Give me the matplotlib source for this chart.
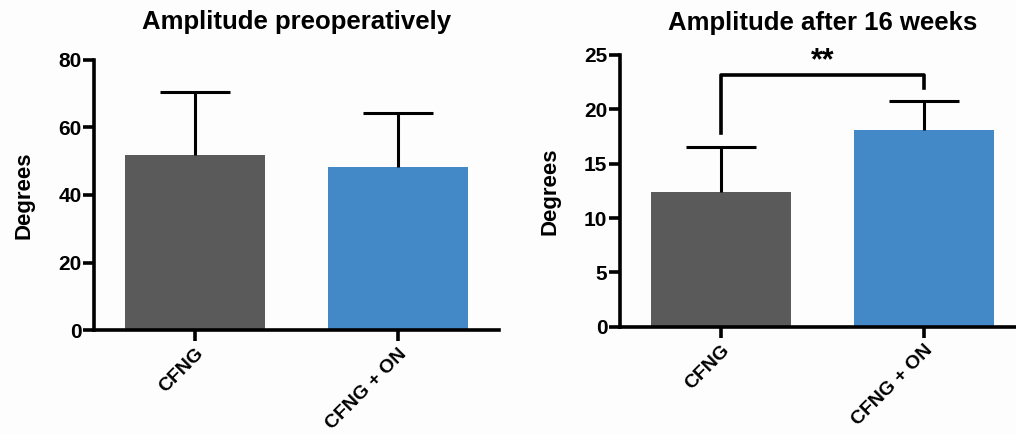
import numpy as np
import matplotlib
matplotlib.use('Agg')
import matplotlib.pyplot as plt

plt.rcParams['font.family'] = ['Liberation Sans', 'DejaVu Sans']
plt.rcParams['font.weight'] = 'bold'

# Data
groups = ['CFNG', 'CFNG + ON']
pre_mean = [51.9, 48.4]
pre_sd = [18.7, 16.0]
post_mean = [12.4, 18.1]
post_sd = [4.1, 2.7]
bar_colors = ['#5a5a5a', '#4389c8']

# bracket for significance (left end, top, right end) in data units
sig_ends = [17.85, 23.2, 21.93]
sig_text = '**'

fig = plt.figure(figsize=(10.16, 4.34), dpi=100)
fig.patch.set_facecolor('#fdfdfe')

ax1 = fig.add_axes([0.0925, 0.2396, 0.399, 0.6222])
ax2 = fig.add_axes([0.6102, 0.2472, 0.3996, 0.6261])

LW = 2.6
BAR_W = 0.69
CAP = 0.345


def draw_panel(ax, means, sds, title, ymax, step, tpad):
    x = np.arange(len(groups))
    ax.bar(x, means, width=BAR_W, color=bar_colors, zorder=2)
    tops = np.array(means) + np.array(sds)
    ax.vlines(x, means, tops, color='black', lw=2.2, zorder=3)
    ax.hlines(tops, x - CAP / 2, x + CAP / 2, color='black', lw=2.2, zorder=3)

    ax.set_xlim(-0.5, 1.5)
    ax.set_ylim(0, ymax)
    ax.set_yticks(np.arange(0, ymax + 0.1, step))
    ax.set_xticks(x)
    ax.set_xticklabels(groups, rotation=45, ha='right', va='top',
                       rotation_mode='anchor', fontsize=14, fontweight='bold')
    for lab in ax.get_yticklabels():
        lab.set_fontsize(15)
        lab.set_fontweight('bold')
    ax.tick_params(axis='both', width=LW, length=8, direction='out', pad=1)
    ax.tick_params(axis='x', pad=3)
    for s in ['top', 'right']:
        ax.spines[s].set_visible(False)
    for s in ['left', 'bottom']:
        ax.spines[s].set_linewidth(LW)
    ax.set_facecolor('none')
    ax.set_ylabel('Degrees', fontsize=16, fontweight='bold', labelpad=17)
    ax.set_title(title, fontsize=18.5, fontweight='bold', pad=tpad)


draw_panel(ax1, pre_mean, pre_sd, 'Amplitude preoperatively', 80, 20, 22)
draw_panel(ax2, post_mean, post_sd, 'Amplitude after 16 weeks', 25, 5, 18)

# significance bracket
ax2.plot([0, 0, 1, 1], [sig_ends[0], sig_ends[1], sig_ends[1], sig_ends[2]],
         color='black', lw=LW, clip_on=False, zorder=4)
ax2.text(0.5, sig_ends[1] + 1.2, sig_text, ha='center', va='center',
         fontsize=22, fontweight='bold')

fig.savefig('out.png', dpi=100, facecolor=fig.get_facecolor())
